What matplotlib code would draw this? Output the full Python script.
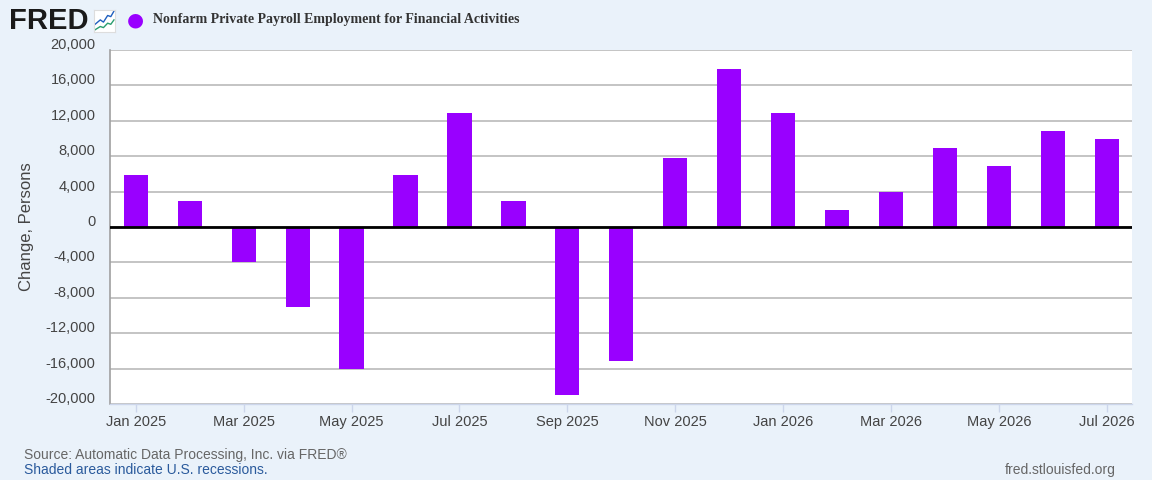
import matplotlib
matplotlib.use("Agg")
import matplotlib.pyplot as plt
import matplotlib.transforms as mtransforms
import numpy as np

months = ["Jan 2025", "Feb 2025", "Mar 2025", "Apr 2025", "May 2025", "Jun 2025",
          "Jul 2025", "Aug 2025", "Sep 2025", "Oct 2025", "Nov 2025", "Dec 2025",
          "Jan 2026", "Feb 2026", "Mar 2026", "Apr 2026", "May 2026", "Jun 2026",
          "Jul 2026"]
values = [5900, 2900, -4000, -9000, -16100, 5900, 12900, 2900, -19000, -15100,
          7800, 17900, 12900, 1900, 3900, 8900, 6900, 10900, 9900]
yticks = [-20000, -16000, -12000, -8000, -4000, 0, 4000, 8000, 12000, 16000, 20000]
xtick_labels = months[::2]

title = "Nonfarm Private Payroll Employment for Financial Activities"
ylabel = "Change, Persons"

BG = "#eaf2fa"
BAR = "#9900ff"
W, H = 1152, 480

plt.rcParams['font.family'] = ['Liberation Sans', 'DejaVu Sans']
fig = plt.figure(figsize=(W / 100, H / 100), dpi=100, facecolor=BG)
ax = fig.add_axes([110 / W, 1 - 404 / H, (1132 - 110) / W, (404 - 50) / H])
ax.set_facecolor("white")

x = np.arange(len(months))
ax.bar(x, values, width=0.45, color=BAR, zorder=3)

ax.set_ylim(-20000, 20000)
ax.set_xlim(-0.48, len(months) - 1 + 0.47)
ax.set_yticks(yticks)
ax.set_yticklabels([f"{v:,}" for v in yticks], fontsize=10.5, color="#444444")
ax.set_xticks(x[::2])
ax.set_xticklabels(xtick_labels, fontsize=10.5, color="#444444")
ax.tick_params(axis='y', length=0, pad=10.5)
ax.tick_params(axis='x', length=6, color="#ccd6eb", width=1, pad=2)

offset = mtransforms.ScaledTranslation(0, 6.5 / 100, fig.dpi_scale_trans)
for lab in ax.get_yticklabels():
    lab.set_transform(lab.get_transform() + offset)

ax.grid(axis='y', color="#c4c4c4", linewidth=1.4, zorder=0)
ax.axhline(0, color="black", linewidth=2, zorder=4)
for s in ["top", "right"]:
    ax.spines[s].set_visible(False)
ax.spines["left"].set_color("#a0a0a0")
ax.spines["left"].set_linewidth(1.2)
ax.spines["bottom"].set_color("#ccd6eb")
ax.spines["bottom"].set_linewidth(1)

ax.set_ylabel(ylabel, fontsize=12, color="#444444")
ax.yaxis.set_label_coords(-(110 - 26) / (1132 - 110), 0.5)
ax.yaxis.label.set_va('center')

# Header
fig.text(9 / W, 1 - 21 / H, "FRED", fontsize=21, fontweight='bold', color="#1a1a1a",
         va='center', ha='left', family='Liberation Sans')
icon = fig.add_axes([94 / W, 1 - 32 / H, 21 / W, 22 / H])
icon.set_facecolor("white")
icon.set_xlim(0, 1); icon.set_ylim(0, 1)
icon.plot([0.05, 0.3, 0.45, 0.65, 0.8, 0.95], [0.35, 0.55, 0.45, 0.75, 0.7, 0.95], color="#1f5fbf", lw=1)
icon.plot([0.05, 0.3, 0.45, 0.65, 0.8, 0.95], [0.1, 0.25, 0.2, 0.4, 0.35, 0.55], color="#2a9d6f", lw=1)
icon.set_xticks([]); icon.set_yticks([])
for s in icon.spines.values():
    s.set_color("#dddddd")
fig.text(135 / W, 1 - 19.5 / H, "\u25CF", fontsize=14, color=BAR, ha='center', va='center',
         family='DejaVu Sans')
fig.text(153 / W, 1 - 20 / H, title, fontsize=10, fontweight='bold', color="#333333",
         va='center', ha='left', family='Liberation Serif')

# Footer
fig.text(24 / W, 1 - 455 / H, "Source: Automatic Data Processing, Inc. via FRED\u00ae",
         fontsize=10, color="#666666", va='center', ha='left')
fig.text(24 / W, 1 - 470 / H, "Shaded areas indicate U.S. recessions.",
         fontsize=10, color="#2a5a9c", va='center', ha='left')
fig.text(1116 / W, 1 - 470 / H, "fred.stlouisfed.org",
         fontsize=10, color="#666666", va='center', ha='right')

fig.savefig("out.png", dpi=100, facecolor=BG)
